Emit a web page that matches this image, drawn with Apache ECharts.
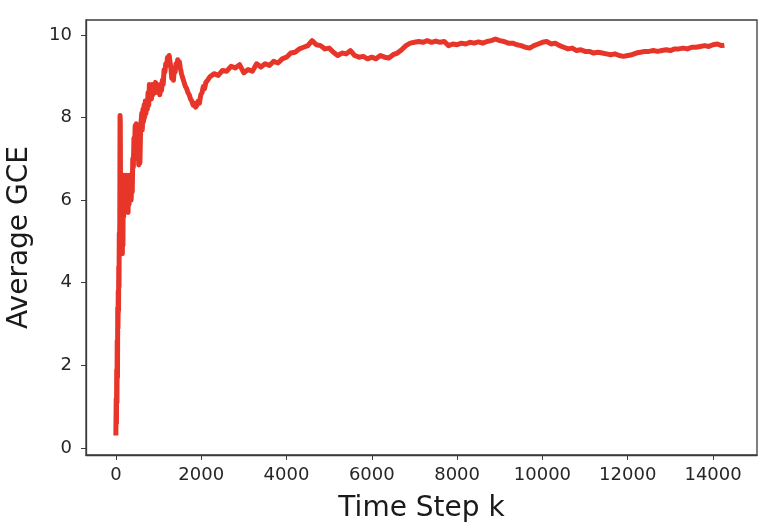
<!DOCTYPE html>
<html>
<head>
<meta charset="utf-8">
<script src="https://cdn.jsdelivr.net/npm/echarts@6/dist/echarts.min.js"></script>
<style>
  html, body { margin: 0; padding: 0; background: #fff; }
  #chart { width: 772px; height: 530px; }
</style>
</head>
<body>
<div id="chart"></div>
<script>
// time steps k
var steps = [
  0, 8, 14, 20, 26, 32, 38, 44, 50, 56, 62, 68, 74, 80, 86, 92, 98, 104, 110, 116,
  122, 128, 134, 140, 146, 152, 158, 166, 174, 182, 190, 200, 210, 220, 230, 240, 250, 262, 274, 286,
  298, 310, 322, 334, 346, 358, 370, 384, 396, 410, 424, 438, 452, 466, 480, 494, 508, 522, 536, 550,
  564, 578, 592, 606, 620, 634, 648, 662, 676, 690, 706, 722, 738, 754, 770, 786, 802, 818, 834, 850,
  870, 890, 910, 930, 950, 970, 990, 1010, 1030, 1050, 1070, 1090, 1110, 1130, 1150, 1170, 1190, 1210, 1230, 1250,
  1270, 1290, 1310, 1330, 1350, 1370, 1390, 1410, 1430, 1450, 1470, 1490, 1510, 1540, 1570, 1600, 1630, 1660, 1690, 1720,
  1750, 1780, 1810, 1840, 1870, 1900, 1930, 1960, 1990, 2020, 2050, 2080, 2110, 2150, 2200, 2300, 2400, 2500, 2600, 2700,
  2800, 2900, 3000, 3100, 3200, 3300, 3400, 3500, 3600, 3700, 3800, 3900, 4000, 4100, 4200, 4300, 4400, 4500, 4600, 4700,
  4800, 4900, 5000, 5100, 5200, 5300, 5400, 5500, 5600, 5700, 5800, 5900, 6000, 6100, 6200, 6300, 6400, 6500, 6600, 6700,
  6800, 6900, 7000, 7100, 7200, 7300, 7400, 7500, 7600, 7700, 7800, 7900, 8000, 8100, 8200, 8300, 8400, 8500, 8600, 8700,
  8800, 8900, 9000, 9100, 9200, 9300, 9400, 9500, 9600, 9700, 9800, 9900, 10000, 10100, 10200, 10300, 10400, 10500, 10600, 10700,
  10800, 10900, 11000, 11100, 11200, 11300, 11400, 11500, 11600, 11700, 11800, 11900, 12000, 12100, 12200, 12300, 12400, 12500, 12600, 12700,
  12800, 12900, 13000, 13100, 13200, 13300, 13400, 13500, 13600, 13700, 13800, 13900, 14000, 14100, 14200, 14265
];

// average GCE
var gce = [
  0.30, 1.2, 0.6, 1.9, 1.1, 2.6, 1.7, 3.4, 2.9, 3.8, 3.3, 4.4, 3.9, 5.2, 4.8, 5.5, 8.05, 7.9, 6.2, 5.4,
  6.1, 5.2, 5.9, 5.0, 6.3, 4.7, 5.6, 4.9, 6.4, 5.6, 6.6, 5.8, 6.5, 5.7, 6.3, 5.9, 6.6, 5.8, 6.2, 5.7,
  6.4, 5.9, 6.6, 6.0, 6.3, 6.0, 6.4, 6.2, 7.0, 6.8, 7.5, 7.1, 7.8, 7.4, 7.85, 7.2, 7.0, 7.4, 6.85, 7.3,
  6.9, 7.6, 7.9, 8.1, 7.7, 8.2, 7.9, 8.3, 8.0, 8.4, 8.1, 8.35, 8.2, 8.6, 8.3, 8.8, 8.5, 8.75, 8.45, 8.8,
  8.55, 8.75, 8.6, 8.85, 8.65, 8.8, 8.6, 8.75, 8.55, 8.8, 8.65, 8.9, 8.8, 9.15, 9.1, 9.3, 9.25, 9.45, 9.4, 9.5,
  9.35, 9.2, 8.95, 9.0, 8.9, 9.2, 9.1, 9.3, 9.25, 9.4, 9.3, 9.35, 9.2, 9.05, 8.95, 8.85, 8.75, 8.7, 8.6, 8.55,
  8.45, 8.4, 8.3, 8.35, 8.25, 8.3, 8.4, 8.35, 8.55, 8.6, 8.75, 8.7, 8.85, 8.9, 8.98, 9.06, 9.02, 9.14, 9.12, 9.24,
  9.2, 9.28, 9.08, 9.16, 9.12, 9.3, 9.22, 9.3, 9.26, 9.36, 9.32, 9.42, 9.46, 9.56, 9.58, 9.66, 9.7, 9.74, 9.86, 9.76,
  9.74, 9.66, 9.68, 9.58, 9.5, 9.56, 9.54, 9.62, 9.5, 9.46, 9.48, 9.42, 9.46, 9.42, 9.5, 9.46, 9.44, 9.52, 9.56, 9.64,
  9.74, 9.8, 9.82, 9.84, 9.82, 9.86, 9.82, 9.85, 9.82, 9.84, 9.74, 9.78, 9.76, 9.8, 9.78, 9.82, 9.8, 9.83, 9.8, 9.84,
  9.86, 9.9, 9.86, 9.84, 9.8, 9.8, 9.76, 9.74, 9.7, 9.68, 9.74, 9.78, 9.82, 9.84, 9.78, 9.8, 9.74, 9.7, 9.66, 9.68,
  9.62, 9.64, 9.6, 9.6, 9.56, 9.58, 9.56, 9.54, 9.52, 9.54, 9.5, 9.48, 9.5, 9.52, 9.56, 9.58, 9.6, 9.6, 9.62, 9.6,
  9.62, 9.64, 9.62, 9.66, 9.66, 9.68, 9.66, 9.7, 9.7, 9.72, 9.74, 9.72, 9.76, 9.78, 9.74, 9.75
];

var xTicks = [0, 2000, 4000, 6000, 8000, 10000, 12000, 14000];
var yTicks = [0, 2, 4, 6, 8, 10];

var points = [];
for (var i = 0; i < steps.length; i++) {
  points.push([steps[i], gce[i]]);
}

var axisColor = '#3a3a3a';
var font = 'DejaVu Sans';

var myChart = echarts.init(document.getElementById('chart'));
var option = {
  animation: false,
  backgroundColor: '#fff',
  grid: {
    left: 86,
    right: 15,
    top: 20,
    bottom: 75,
    containLabel: false,
    outerBoundsMode: 'none',
    show: true,
    borderColor: axisColor,
    borderWidth: 1.3
  },
  xAxis: {
    type: 'value',
    min: -700,
    max: 15030,
    name: 'Time Step k',
    nameLocation: 'middle',
    nameGap: 40,
    nameTextStyle: { fontFamily: font, fontSize: 28, color: '#1a1a1a' },
    splitLine: { show: false },
    axisLine: { show: true, onZero: false, lineStyle: { color: axisColor, width: 1.3 } },
    axisTick: { show: true, length: 5, lineStyle: { color: axisColor }, customValues: xTicks },
    axisLabel: {
      margin: 11, fontFamily: font, fontSize: 18, color: '#262626', customValues: xTicks,
      formatter: function (v) { return String(v); }
    }
  },
  yAxis: {
    type: 'value',
    min: -0.17,
    max: 10.36,
    name: 'Average GCE',
    nameLocation: 'middle',
    nameGap: 52,
    nameTextStyle: { fontFamily: font, fontSize: 28, color: '#1a1a1a' },
    splitLine: { show: false },
    axisLine: { show: true, onZero: false, lineStyle: { color: axisColor, width: 1.3 } },
    axisTick: { show: true, length: 5, lineStyle: { color: axisColor }, customValues: yTicks },
    axisLabel: {
      margin: 14, fontFamily: font, fontSize: 18, color: '#262626', customValues: yTicks,
      formatter: function (v) { return String(v); }
    }
  },
  series: [{
    type: 'line',
    data: points,
    showSymbol: false,
    symbol: 'none',
    lineStyle: { color: '#e8352a', width: 5, join: 'round' }
  }]
};
option && myChart.setOption(option);
</script>
</body>
</html>
